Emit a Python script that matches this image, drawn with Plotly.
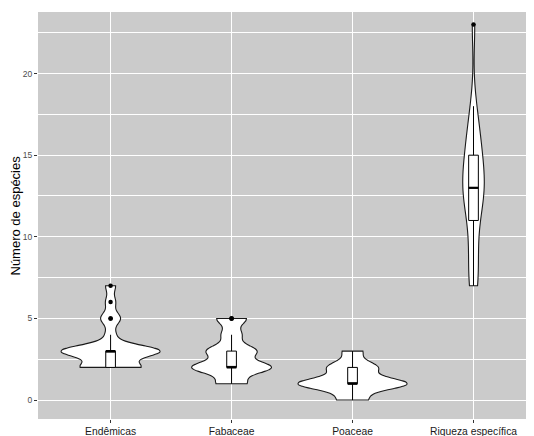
import numpy as np
import plotly.graph_objects as go

categories = ["Endêmicas", "Fabaceae", "Poaceae", "Riqueza específica"]

endemicas = [2, 2, 2, 2, 2, 2, 3, 3, 3, 3, 3, 3, 3, 3, 3, 3, 4, 5, 5, 6, 7]
fabaceae = [1, 1, 1, 2, 2, 2, 2, 2, 2, 2, 2, 3, 3, 3, 3, 3, 4, 4, 5, 5, 5]
poaceae = [0, 0, 0, 1, 1, 1, 1, 1, 1, 1, 1, 1, 1, 1, 2, 2, 2, 2, 2, 3, 3]
riqueza = [7, 7, 8, 9, 10, 11, 12, 12, 13, 13, 13, 13, 14, 14, 15, 15, 16, 16, 17, 18, 23]

y_ticks = [0, 5, 10, 15, 20]
y_minor = [2.5, 7.5, 12.5, 17.5, 22.5]

series = [endemicas, fabaceae, poaceae, riqueza]


def bw_nrd0(x):
    x = np.asarray(x, dtype=float)
    sd = np.std(x, ddof=1)
    q75, q25 = np.percentile(x, [75, 25])
    lo = min(sd, (q75 - q25) / 1.34)
    return 0.9 * lo * len(x) ** -0.2


def max_density(x, h):
    x = np.asarray(x, dtype=float)
    grid = np.linspace(x.min(), x.max(), 512)
    d = np.exp(-0.5 * ((grid[:, None] - x[None, :]) / h) ** 2).sum(axis=1)
    d /= len(x) * h * np.sqrt(2 * np.pi)
    return d.max()


MAX_W = 0.9          # widest violin (data units)
BOX_W = 0.08         # inner box full width (data units)

bws = [bw_nrd0(v) for v in series]
peaks = [max_density(v, h) for v, h in zip(series, bws)]
top_peak = max(peaks)

fig = go.Figure()
for cat, vals, h, pk in zip(categories, series, bws, peaks):
    w = MAX_W * pk / top_peak   # equal-area scaling (as ggplot scale="area")
    fig.add_trace(go.Violin(
        x=[cat] * len(vals),
        y=vals,
        name=cat,
        width=w,
        scalemode="width",
        scalegroup=cat,
        spanmode="hard",
        bandwidth=h,
        side="both",
        fillcolor="white",
        line=dict(color="#1a1a1a", width=1.1),
        box=dict(visible=True, width=BOX_W / w, fillcolor="white",
                 line=dict(color="black", width=1)),
        meanline=dict(visible=False),
        points="outliers",
        jitter=0,
        pointpos=0,
        quartilemethod="inclusive",
        marker=dict(color="black", size=4.5, line=dict(width=0)),
        hoverinfo="skip",
    ))

half_box = BOX_W / 2
for i, vals in enumerate(series):
    med = float(np.median(vals))
    fig.add_shape(type="line", xref="x", yref="y",
                  x0=i - half_box, x1=i + half_box, y0=med, y1=med,
                  line=dict(color="black", width=2.2), layer="above")

fig.add_annotation(
    text="Número de espécies", xref="paper", yref="paper",
    x=-23 / 496, y=0.5, xanchor="center", yanchor="middle",
    textangle=-90, showarrow=False,
    font=dict(size=13, color="black"),
)

# page body has an 8px default margin: figure is sized to fit the 534x436 window
fig.update_layout(
    width=526, height=428,
    margin=dict(l=30, r=0, t=4, b=17),
    paper_bgcolor="white", plot_bgcolor="#CBCBCB",
    violinmode="overlay", showlegend=False,
    font=dict(family="Liberation Sans, Arial, sans-serif", color="#333333"),
    xaxis=dict(
        type="category", categoryorder="array", categoryarray=categories,
        range=[-0.6, 3.5], showgrid=True, gridcolor="white", gridwidth=1.3,
        ticks="outside", ticklen=3, tickwidth=1, tickcolor="#333333",
        tickfont=dict(size=10.3, color="#1a1a1a"),
        zeroline=False, showline=False, automargin=False, fixedrange=True,
    ),
    yaxis=dict(
        range=[-1.16, 23.77], tickmode="array", tickvals=y_ticks,
        showgrid=True, gridcolor="white", gridwidth=1.3,
        minor=dict(tickmode="array", tickvals=y_minor, showgrid=True,
                   gridcolor="white", gridwidth=0.8, ticks=""),
        ticks="outside", ticklen=3, tickwidth=1, tickcolor="#333333",
        tickfont=dict(size=8.5, color="#4d4d4d"),
        zeroline=False, showline=False, automargin=False, fixedrange=True,
    ),
)

fig.write_html("out.html")
